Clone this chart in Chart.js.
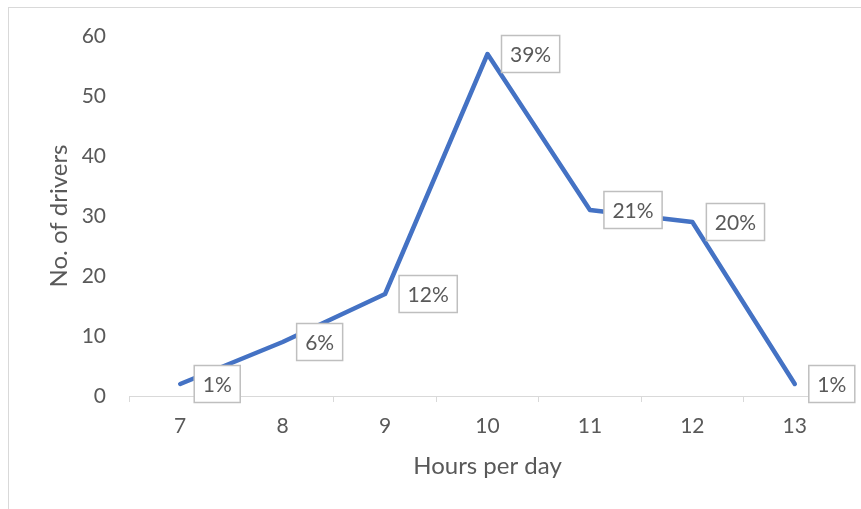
<!DOCTYPE html>
<html>
<head>
<meta charset="utf-8">
<script src="https://cdn.jsdelivr.net/npm/chart.js@4/dist/chart.umd.min.js"></script>
<style>
  html, body { margin: 0; padding: 0; background: #ffffff; overflow: hidden; }
  #frame {
    position: absolute; left: 8px; top: 7px; width: 900px; height: 600px;
    border-left: 1px solid #d9d9d9; border-top: 1px solid #d9d9d9;
  }
  #chart { position: absolute; left: 0; top: 0; }
</style>
</head>
<body>
<div id="frame"></div>
<canvas id="chart" width="861" height="509"></canvas>
<script>
// Working hours per day and the number of drivers reporting each
const hours = ['7', '8', '9', '10', '11', '12', '13'];
const drivers = [2, 9, 17, 57, 31, 29, 2];
const yTickValues = [0, 10, 20, 30, 40, 50, 60];

const textColor = '#595959';
const fontFamily = 'Lato, "Open Sans", sans-serif';

// Share of all drivers, shown next to each point
const totalDrivers = drivers.reduce((a, b) => a + b, 0);
const shareLabels = drivers.map(v => Math.round(v / totalDrivers * 100) + '%');

// Boxed percentage labels to the right of each point
const boxedLabels = {
  id: 'boxedLabels',
  afterDatasetsDraw(chart) {
    const ctx = chart.ctx;
    const meta = chart.getDatasetMeta(0);
    ctx.save();
    ctx.font = '21px ' + fontFamily;
    ctx.textBaseline = 'middle';
    ctx.textAlign = 'left';
    meta.data.forEach((pt, i) => {
      const text = shareLabels[i];
      const w = ctx.measureText(text).width + 17;
      const h = 37;
      const x = pt.x + 14;
      const y = pt.y - h / 2;
      ctx.fillStyle = '#ffffff';
      ctx.fillRect(x, y, w, h);
      ctx.strokeStyle = '#bfbfbf';
      ctx.lineWidth = 1.5;
      ctx.strokeRect(x, y, w, h);
      ctx.fillStyle = textColor;
      ctx.fillText(text, x + 8.5, pt.y + 1);
    });
    ctx.restore();
  }
};

new Chart(document.getElementById('chart'), {
  type: 'line',
  data: {
    labels: hours,
    datasets: [{
      data: drivers,
      borderColor: '#4472C4',
      borderWidth: 4.5,
      borderCapStyle: 'round',
      borderJoinStyle: 'round',
      pointRadius: 0,
      tension: 0,
      fill: false
    }]
  },
  options: {
    responsive: false,
    animation: false,
    events: [],
    layout: { padding: { left: 0, right: 15, top: 36, bottom: 0 } },
    plugins: {
      legend: { display: false },
      tooltip: { enabled: false }
    },
    scales: {
      x: {
        type: 'category',
        offset: true,
        grid: {
          offset: true,
          drawOnChartArea: false,
          drawTicks: true,
          tickLength: 6,
          color: '#d9d9d9'
        },
        border: { display: true, color: '#d9d9d9', width: 1 },
        ticks: {
          color: textColor,
          font: { family: fontFamily, size: 21 },
          padding: 12,
          maxRotation: 0
        },
        title: {
          display: true,
          text: 'Hours per day',
          color: textColor,
          font: { family: fontFamily, size: 24 },
          padding: { top: 0, bottom: 28.6 }
        },
        afterFit(scale) { scale.height = 113; }
      },
      y: {
        min: 0,
        max: 60,
        grid: { display: false, drawTicks: false },
        border: { display: false },
        afterBuildTicks(scale) {
          scale.ticks = yTickValues.map(v => ({ value: v }));
        },
        ticks: {
          color: textColor,
          font: { family: fontFamily, size: 21 },
          padding: 23
        },
        title: {
          display: true,
          text: 'No. of drivers',
          color: textColor,
          font: { family: fontFamily, size: 24 },
          padding: { top: 44.6, bottom: 0 }
        },
        afterFit(scale) { scale.width = 129; }
      }
    }
  },
  plugins: [boxedLabels]
});
</script>
</body>
</html>
